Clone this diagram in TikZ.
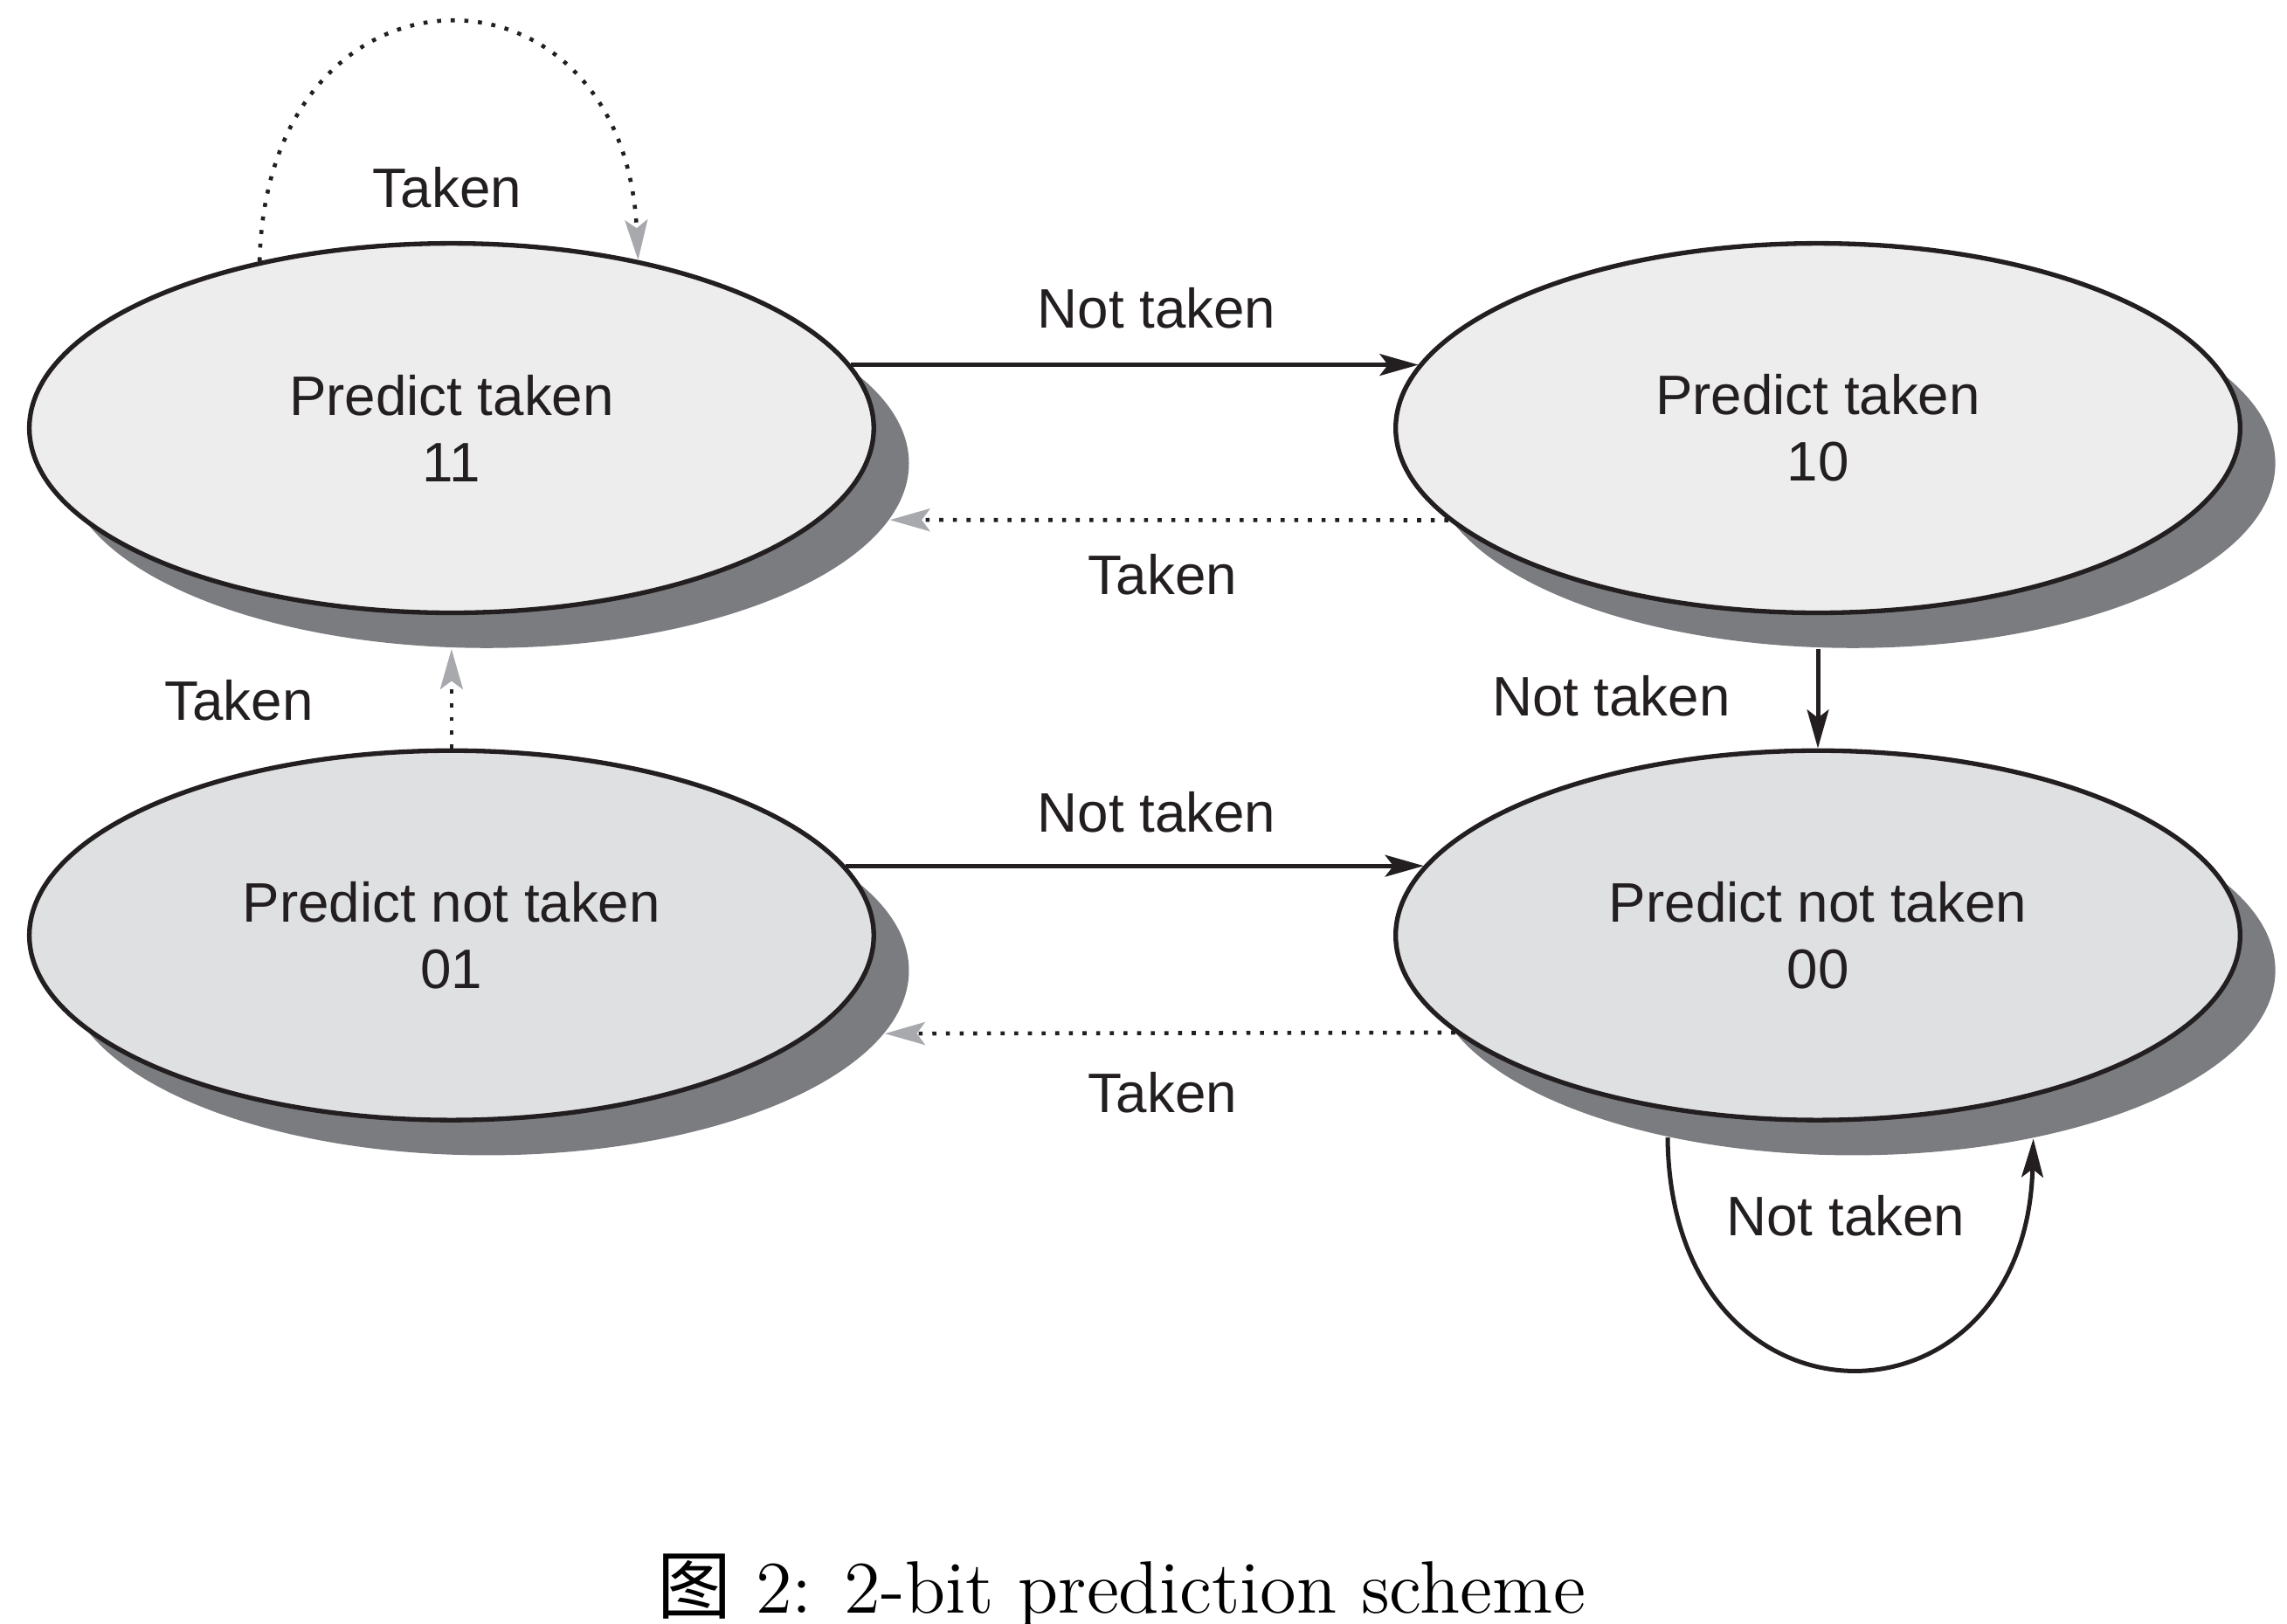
\documentclass[tikz,border=0pt]{standalone}
\usepackage{fontspec}
\usepackage{xcolor}
\usepackage{tikz}
\usetikzlibrary{shapes.geometric,arrows.meta}
\newfontfamily\lblfont{Liberation Sans}
\newfontfamily\cjk{Noto Sans CJK SC}
\definecolor{ink}{HTML}{231F20}
\definecolor{lightfill}{HTML}{EDEDED}
\definecolor{darkfill}{HTML}{DFE0E2}
\definecolor{shadowgray}{HTML}{7B7C80}
\definecolor{tipgray}{HTML}{A7A9AC}

\begin{document}
\begin{tikzpicture}[
        stateoval/.style={ellipse, draw=ink, line width=0.9pt, minimum width=5.76cm, minimum height=2.52cm, inner sep=0pt, align=center, text=ink, font=\lblfont\fontsize{10.8}{12.85}\selectfont},
        shadowoval/.style={ellipse, fill=shadowgray, minimum width=5.76cm, minimum height=2.52cm, inner sep=0pt},
        lbl/.style={inner sep=0pt, text=ink, font=\lblfont\fontsize{10.8}{12.85}\selectfont},
        nottaken/.style={draw=ink, line width=0.85pt, -{Stealth[length=7.5pt, width=4.2pt, inset=1.6pt]}},
        taken/.style={draw=ink, line width=0.78pt, dash pattern=on 0.78pt off 1.87pt, -{Stealth[length=7.8pt, width=4.4pt, inset=1.6pt, color=tipgray]}}
    ]
        \useasboundingbox (0,0) rectangle (15.6,-11.072);

        \node[shadowoval] (s11) at (3.32,-3.16) {};
        \node[shadowoval] (s10) at (12.64,-3.16) {};
        \node[shadowoval] (s01) at (3.32,-6.62) {};
        \node[shadowoval] (s00) at (12.64,-6.62) {};

        \node[stateoval, fill=lightfill] (p11) at (3.08,-2.92) {Predict taken\\11};
        \node[stateoval, fill=lightfill] (p10) at (12.40,-2.92) {Predict taken\\10};
        \node[stateoval, fill=darkfill] (p01) at (3.08,-6.38) {Predict not taken\\01};
        \node[stateoval, fill=darkfill] (p00) at (12.40,-6.38) {Predict not taken\\00};

        \node[lbl] (tk11) at (3.05,-1.28) {Taken};
        \node[lbl] (nt1110) at (7.89,-2.10) {Not taken};
        \node[lbl] (tk1011) at (7.93,-3.92) {Taken};
        \node[lbl] (tk0111) at (1.63,-4.78) {Taken};
        \node[lbl] (nt1000) at (10.99,-4.75) {Not taken};
        \node[lbl] (nt0100) at (7.89,-5.54) {Not taken};
        \node[lbl] (tk0001) at (7.93,-7.45) {Taken};
        \node[lbl] (nt00) at (12.59,-8.29) {Not taken};

        \draw[taken] (p11.139) .. controls +(0.05,2.15) and +(-0.10,2.15) .. (p11.42);
        \draw[nottaken] (p11.9) -- (p10.171);
        \draw[taken] (p10.194) -- (s11.-8);
        \draw[taken] (p01.north) -- (p01.north |- s11.south);
        \draw[nottaken] (p00.north |- s10.south) -- (p00.north);
        \draw[nottaken] (p01.10) -- (p00.170);
        \draw[taken] (p00.195) -- (s01.-9);
        \draw[nottaken] (s00.222) .. controls +(0.02,-2.10) and +(-0.05,-2.07) .. (s00.317);

        \node[anchor=base, text=black, font=\fontsize{14.4}{17}\selectfont] (caption) at (7.65,-11.00) {{\cjk 图} 2: 2-bit prediction scheme};
    \end{tikzpicture}
\end{document}
